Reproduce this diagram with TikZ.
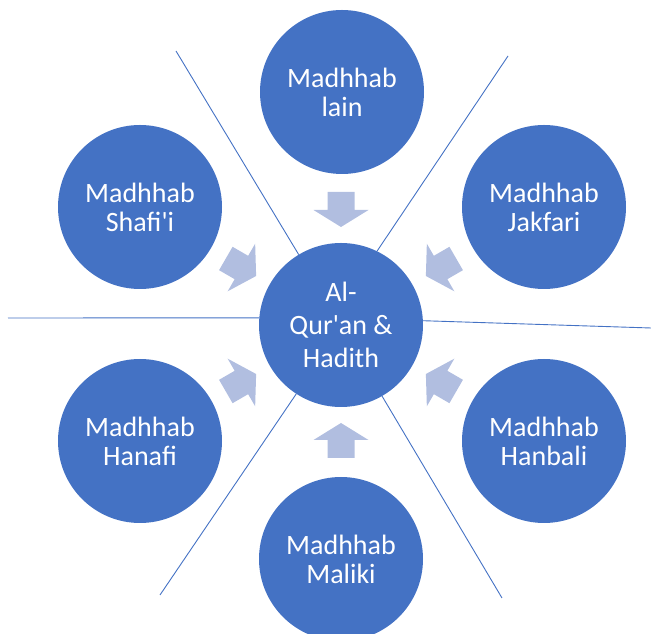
\documentclass[tikz,border=0pt]{standalone}
\usepackage{fontspec}
% plain family: keeps straight apostrophes
\newfontfamily\labelfont{Carlito}
\definecolor{hubblue}{HTML}{4472C4}
\definecolor{arrowblue}{RGB}{177,190,224}
\begin{document}
\begin{tikzpicture}[x=1pt,y=1pt,
  school/.style={circle, fill=hubblue, text=white, minimum size=164pt,
    inner sep=0pt, outer sep=0pt, align=center,
    font=\labelfont\fontsize{28}{29}\selectfont},
  hub/.style={school, font=\labelfont\fontsize{28}{33}\selectfont},
  divider/.style={draw=hubblue, line width=0.9pt},
  inflow/.style={fill=arrowblue}]
\useasboundingbox (0,0) rectangle (651,634);

% central source and the surrounding schools
\node[hub]    (c)    at (341,309) {Al-\\Qur'an \&\\Hadith};
\node[school] (lain) at (342,542) {Madhhab\\lain};
\node[school] (shaf) at (140,427) {Madhhab\\Shafi'i};
\node[school] (jakf) at (544,427) {Madhhab\\Jakfari};
\node[school] (hanf) at (140,193) {Madhhab\\Hanafi};
\node[school] (hanb) at (544,193) {Madhhab\\Hanbali};
\node[school] (malk) at (341,75)  {Madhhab\\Maliki};

% block arrows pointing into the centre
\foreach \a in {90,30,150,210,270,330} {
  \begin{scope}[shift={(c.center)}, rotate=\a]
    \fill[inflow] (133,-13.5) -- (115,-13.5) -- (115,-27.5) -- (98,0)
      -- (115,27.5) -- (115,13.5) -- (133,13.5) -- cycle;
  \end{scope}
}

% dividing lines between the schools
\coordinate (dUL) at (176,583);
\coordinate (dUR) at (508,578);
\coordinate (dLL) at (160,39);
\coordinate (dLR) at (502,36);
\coordinate (dL)  at (8,316);
\coordinate (dR)  at (651,306);
\draw[divider] (c.121) -- (dUL);
\draw[divider] (c.64)  -- (dUR);
\draw[divider] (c.237) -- (dLL);
\draw[divider] (c.300) -- (dLR);
\draw[divider] (c.175) -- (dL);
\draw[divider] (c.3)   -- (dR);
\end{tikzpicture}
\end{document}
